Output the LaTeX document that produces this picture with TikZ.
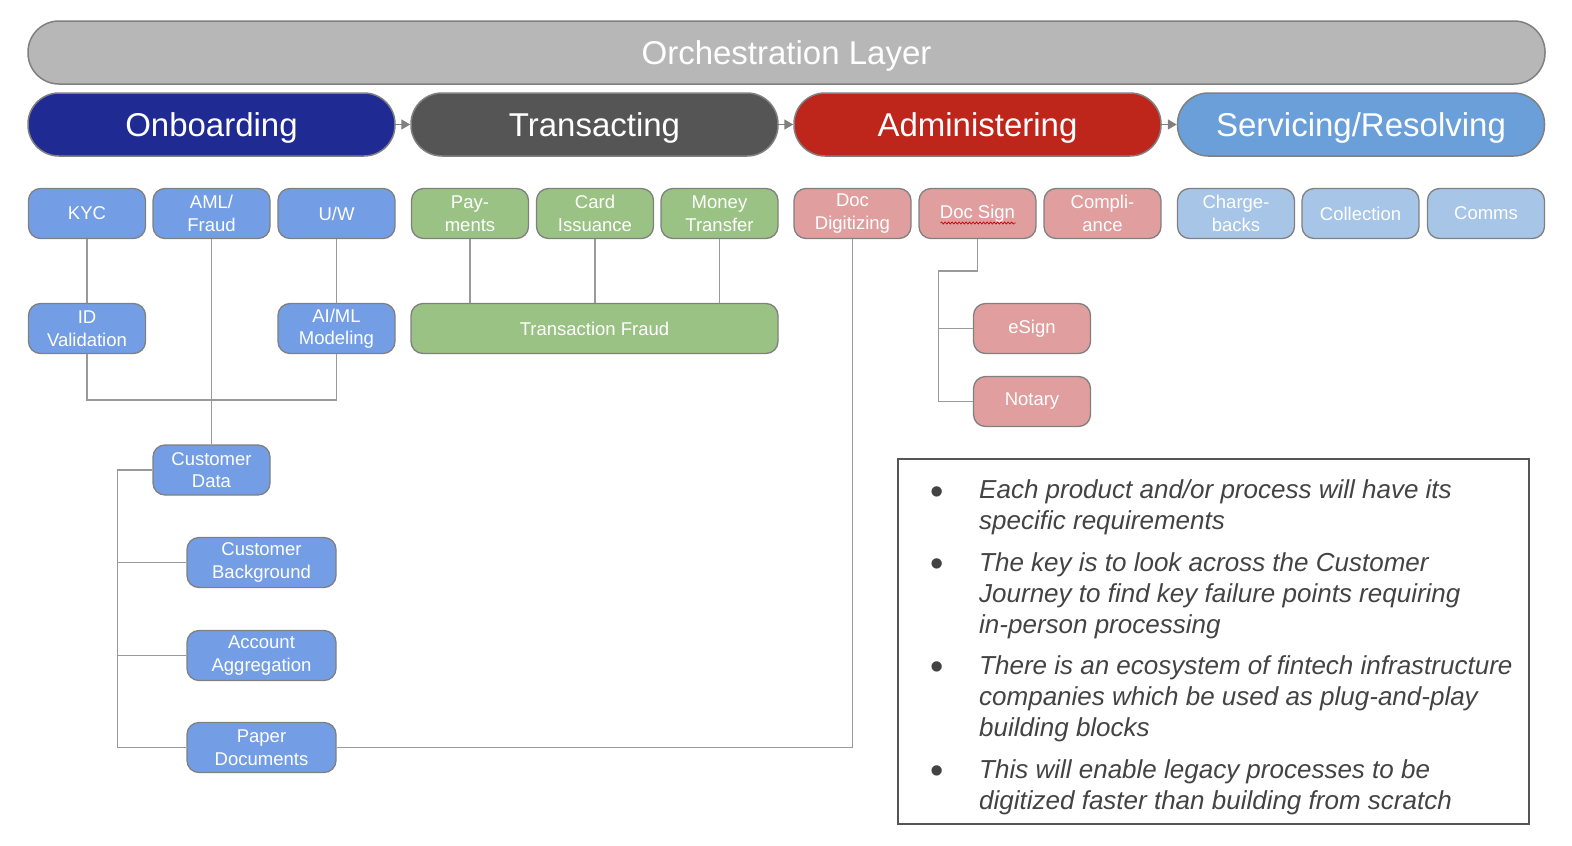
\documentclass[tikz,border=0pt]{standalone}
\usepackage{fontspec}
\setmainfont{Liberation Sans}
\usepackage{xcolor}
\usepackage{tikz}
\usetikzlibrary{arrows.meta,calc,decorations.pathmorphing}
\definecolor{orch}{HTML}{B7B7B7}
\definecolor{onb}{HTML}{1F2A93}
\definecolor{trn}{HTML}{555555}
\definecolor{adm}{HTML}{BE251B}
\definecolor{srv}{HTML}{6A9FD9}
\definecolor{onbl}{HTML}{739EE6}
\definecolor{trnl}{HTML}{9BC285}
\definecolor{adml}{HTML}{E09E9E}
\definecolor{srvl}{HTML}{A7C5E6}
\definecolor{edge}{HTML}{808080}
\definecolor{wire}{HTML}{9A9A9A}
\definecolor{note}{HTML}{434343}
\tikzset{
    pill/.style={draw=edge, line width=1.5pt, rounded corners=31pt,
        minimum width=367pt, minimum height=63pt, inner sep=0pt,
        text height=23.6pt, text depth=0pt,
        text=white, font=\fontsize{33}{38}\selectfont},
    subbox/.style={draw=edge, line width=1.3pt, rounded corners=12pt,
        minimum width=117pt, minimum height=50pt, inner sep=0pt,
        align=center, text=white, font=\fontsize{18.5}{22.5}\selectfont},
    conn/.style={draw=wire, line width=1.5pt},
    flow/.style={draw=edge, line width=1.5pt,
        -{Triangle[length=9pt,width=10pt]}},
    bulletnote/.style={anchor=base west, inner sep=0pt, align=left,
        text=note, font=\fontsize{26}{31}\selectfont\itshape},
    dot/.style={anchor=center, inner sep=0pt, text=note,
        font=\fontsize{38}{38}\selectfont}
}
\newcommand{\subbox}[5]{
    \node[subbox, fill=#4] (#1) at (#2, #3) {#5};
}

\begin{document}
\begin{tikzpicture}[x=1pt,y=-1pt]
    \useasboundingbox (0,0) rectangle (1572,846);

    \node[pill, fill=orch, minimum width=1517pt] (orch) at (786.5,52.5) {Orchestration Layer};

    \node[pill, fill=onb] (onb) at (211.5,124.5) {Onboarding};
    \node[pill, fill=trn] (trn) at (594.5,124.5) {Transacting};
    \node[pill, fill=adm] (adm) at (977.5,124.5) {Administering};
    \node[pill, fill=srv] (srv) at (1361,124.5) {Servicing/Resolving};

    \draw[flow] (onb) -- (trn);
    \draw[flow] (trn) -- (adm);
    \draw[flow] (adm) -- (srv);

    % onboarding
    \subbox{kyc}{87}{213.5}{onbl}{KYC}
    \subbox{aml}{211.5}{213.5}{onbl}{AML/\\Fraud}
    \subbox{uw}{336.5}{213.5}{onbl}{U/W}
    \subbox{idval}{87}{328.5}{onbl}{ID\\Validation}
    \subbox{aiml}{336.5}{328.5}{onbl}{AI/ML\\Modeling}
    \subbox{custdata}{211.5}{470}{onbl}{Customer\\Data}
    \node[subbox, fill=onbl, minimum width=149pt] (custbg) at (261.5,562.5) {Customer\\Background};
    \node[subbox, fill=onbl, minimum width=149pt] (acctagg) at (261.5,655.5) {Account\\Aggregation};
    \node[subbox, fill=onbl, minimum width=149pt] (paper) at (261.5,747.5) {Paper\\Documents};

    % transacting
    \subbox{pay}{470}{213.5}{trnl}{Pay-\\ments}
    \subbox{card}{595}{213.5}{trnl}{Card\\Issuance}
    \subbox{money}{719.5}{213.5}{trnl}{Money\\Transfer}
    \node[subbox, fill=trnl, minimum width=367pt] (txfraud) at (594.5,328.5) {Transaction Fraud};

    % administering
    \subbox{docdig}{852.5}{213.5}{adml}{Doc\\Digitizing}
    \subbox{docsign}{977.5}{213.5}{adml}{Doc Sign}
    \subbox{compl}{1102.5}{213.5}{adml}{Compli-\\ance}
    \subbox{esign}{1032}{328.5}{adml}{eSign}
    \subbox{notary}{1032}{401.5}{adml}{Notary}
    \draw[red!80!black, line width=0.7pt, decorate,
        decoration={snake, amplitude=1pt, segment length=3.5pt}]
        ($(docsign.center)+(-37,9.5)$) -- ($(docsign.center)+(38,9.5)$);

    % servicing
    \subbox{charge}{1236}{213.5}{srvl}{Charge-\\backs}
    \subbox{coll}{1360.5}{213.5}{srvl}{Collection}
    \subbox{comms}{1486}{213.5}{srvl}{Comms}

    % connectors
    \draw[conn] (kyc) -- (idval);
    \draw[conn] (uw) -- (aiml);
    \draw[conn] (aml) -- (custdata);
    \draw[conn] (idval.south) -- ++(0,46) -| (aiml.south);
    \draw[conn] (pay.south) -- (pay.south |- txfraud.north);
    \draw[conn] (card.south) -- (card.south |- txfraud.north);
    \draw[conn] (money.south) -- (money.south |- txfraud.north);
    \coordinate (spine) at ($(custdata.west)+(-35,0)$);
    \draw[conn] (custdata.west) -- (spine) |- (paper.west);
    \draw[conn] (custbg.west) -- (custbg.west -| spine);
    \draw[conn] (acctagg.west) -- (acctagg.west -| spine);
    \draw[conn] (paper.east) -| (docdig.south);
    \coordinate (signjoin) at ($(docsign.south)+(-39,32)$);
    \draw[conn] (docsign.south) |- (signjoin) |- (notary.west);
    \draw[conn] (esign.west) -- (esign.west -| signjoin);

    % notes
    \draw[draw=trn, line width=1.5pt] (898,459) rectangle (1529,824);
    \node[dot] (b1) at (937,496) {\textbullet};
    \node[bulletnote] (t1) at (979,529) {Each product and/or process will have its\\specific requirements};
    \node[dot] (b2) at (937,568) {\textbullet};
    \node[bulletnote] (t2) at (979,633) {The key is to look across the Customer\\Journey to find key failure points requiring\\in-person processing};
    \node[dot] (b3) at (937,671) {\textbullet};
    \node[bulletnote] (t3) at (979,736) {There is an ecosystem of fintech infrastructure\\companies which be used as plug-and-play\\building blocks};
    \node[dot] (b4) at (937,775) {\textbullet};
    \node[bulletnote] (t4) at (979,809) {This will enable legacy processes to be\\digitized faster than building from scratch};
\end{tikzpicture}
\end{document}
